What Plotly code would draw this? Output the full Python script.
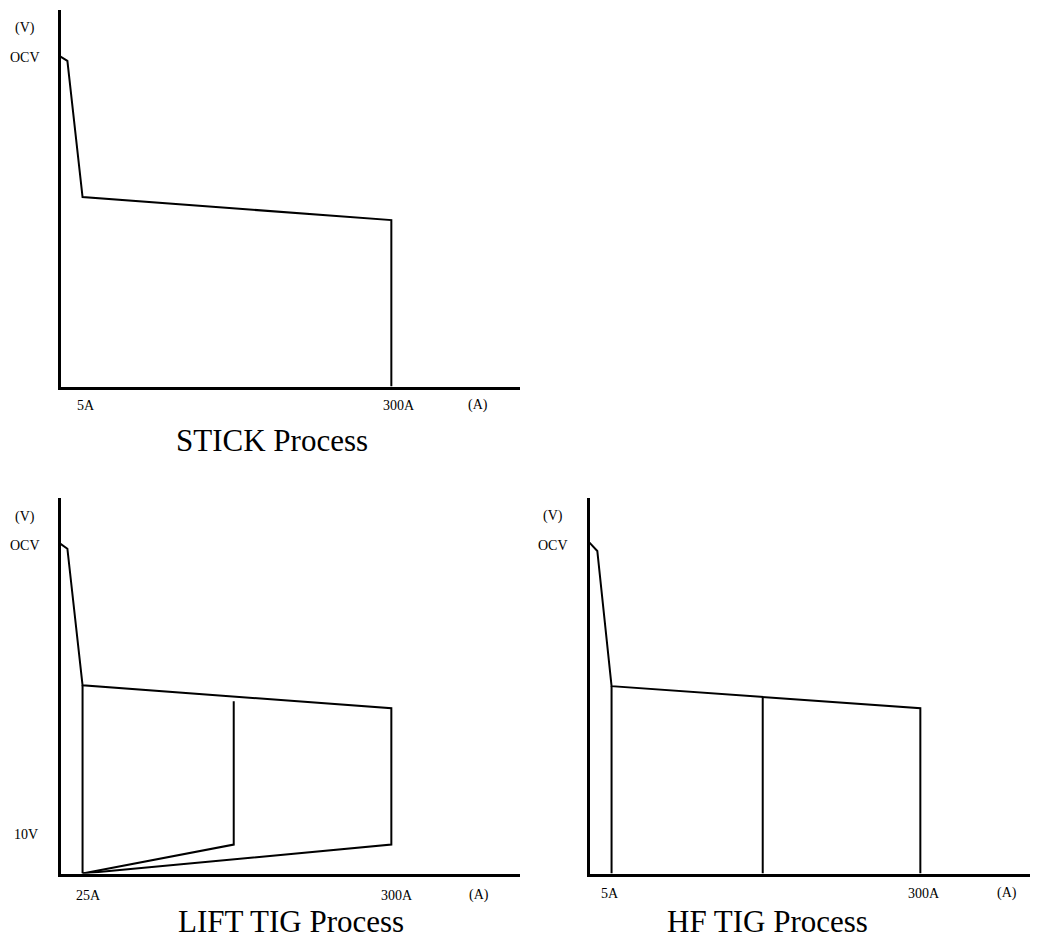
import plotly.graph_objects as go

# ---- data (schematic units) ----
stick_I = [0, 1.5, 4.8, 72.0, 72.0]
stick_V = [87.6, 86.5, 50.3, 44.2, 0]

lift_I = [0, 1.5, 4.8, 72.0, 72.0, 4.8]
lift_V = [87.8, 86.5, 50.1, 44.0, 7.7, 0]
lift_base_I = [4.8, 4.8]
lift_base_V = [50.1, 0]
lift_mid_I = [4.8, 37.7, 37.7]
lift_mid_V = [0, 7.7, 45.9]

hf_I = [0, 1.7, 4.8, 72.0, 72.0]
hf_V = [88.1, 85.9, 49.9, 44.0, 0]
hf_base_I = [4.8, 4.8]
hf_base_V = [49.9, 0]
hf_mid_I = [37.7, 37.7]
hf_mid_V = [47.0, 0]

# label texts and their page positions (px)
stick_labels = [("(V)", 25, 28), ("OCV", 25, 57),
                ("5A", 86, 405), ("300A", 399, 405), ("(A)", 478, 405)]
lift_labels = [("(V)", 25, 517), ("OCV", 25, 545), ("10V", 26, 834),
               ("25A", 88, 895), ("300A", 397, 895), ("(A)", 479, 895)]
hf_labels = [("(V)", 553, 516), ("OCV", 553, 545),
             ("5A", 610, 893), ("300A", 924, 893), ("(A)", 1007, 893)]
titles = [("STICK Process", 272, 440),
          ("LIFT TIG Process", 291, 921),
          ("HF TIG Process", 767, 921)]

# page offset (browser body margin)
OFF = 8
W, H = 1038 - OFF, 946 - OFF
FONT = "Liberation Serif"
line = dict(color="black", width=2)


def px_x(p):
    return (p - OFF) / W


def px_y(p):
    return 1 - (p - OFF) / H


fig = go.Figure()
for xs, ys, xa, ya in [
    (stick_I, stick_V, "x", "y"),
    (lift_I, lift_V, "x2", "y2"),
    (lift_base_I, lift_base_V, "x2", "y2"),
    (lift_mid_I, lift_mid_V, "x2", "y2"),
    (hf_I, hf_V, "x3", "y3"),
    (hf_base_I, hf_base_V, "x3", "y3"),
    (hf_mid_I, hf_mid_V, "x3", "y3"),
]:
    fig.add_trace(go.Scatter(x=xs, y=ys, xaxis=xa, yaxis=ya, mode="lines",
                             line=line, showlegend=False, hoverinfo="skip",
                             cliponaxis=False))


def ax(domain, rng):
    return dict(domain=domain, range=rng, showline=True, linecolor="black",
                linewidth=3, showgrid=False, zeroline=False, ticks="",
                showticklabels=False, fixedrange=True)


left = [px_x(60.5), px_x(520)]
right = [px_x(589.5), 1.0]
top = [px_y(386.5), px_y(10)]
bot = [px_y(873.5), px_y(498)]
right_range = 100 * (1038 - 589.5) / (520 - 60.5)

annotations = []
for labels in (stick_labels, lift_labels, hf_labels):
    for t, x, y in labels:
        annotations.append(dict(text=t, x=px_x(x), y=px_y(y), xref="paper", yref="paper",
                                showarrow=False, xanchor="center", yanchor="middle",
                                font=dict(family=FONT, size=14, color="black")))
for t, x, y in titles:
    annotations.append(dict(text=t, x=px_x(x), y=px_y(y), xref="paper", yref="paper",
                            showarrow=False, xanchor="center", yanchor="middle",
                            font=dict(family=FONT, size=31, color="black")))

fig.update_layout(
    width=W, height=H,
    margin=dict(l=0, r=0, t=0, b=0),
    paper_bgcolor="white", plot_bgcolor="white",
    xaxis=dict(ax(left, [0, 100]), anchor="y"),
    yaxis=dict(ax(top, [0, 100]), anchor="x"),
    xaxis2=dict(ax(left, [0, 100]), anchor="y2"),
    yaxis2=dict(ax(bot, [0, 100]), anchor="x2"),
    xaxis3=dict(ax(right, [0, right_range]), anchor="y3"),
    yaxis3=dict(ax(bot, [0, 100]), anchor="x3"),
    annotations=annotations,
)

fig.write_html("out.html")
